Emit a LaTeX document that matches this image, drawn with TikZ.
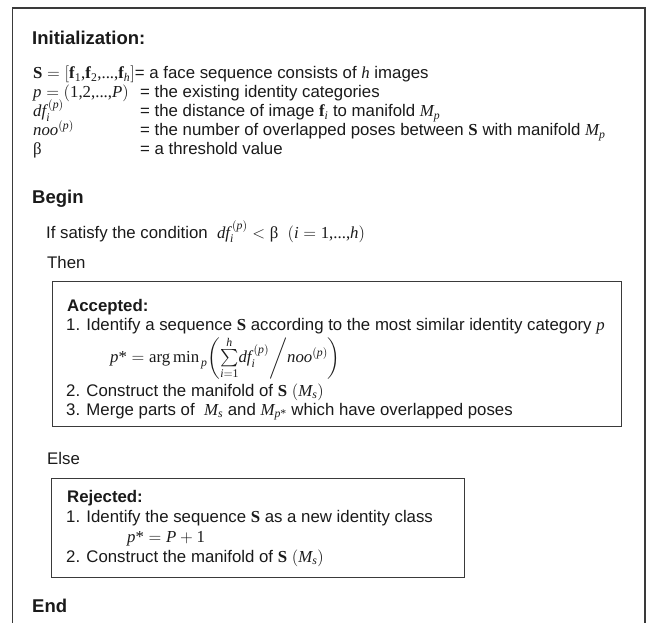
\documentclass[tikz,border=0pt]{standalone}
\usepackage{fix-cm}
\usepackage{amsmath}
\usepackage{fontspec}
\setmainfont{Liberation Sans}
\newfontfamily\serif{Liberation Serif}
\newcommand\mv[1]{\text{\serif\itshape #1}}
\newcommand\mb[1]{\text{\serif\bfseries #1}}
\newcommand\mr[1]{\text{\serif #1}}
\definecolor{ink}{HTML}{1A1A1A}
\definecolor{rulec}{HTML}{3A3A3A}
\tikzset{
  txt/.style={anchor=base west, inner sep=0pt, text=ink, font=\fontsize{16.8}{19}\selectfont},
  head/.style={anchor=base west, inner sep=0pt, text=ink, font=\fontsize{18.5}{22}\selectfont\bfseries},
  subhead/.style={anchor=base west, inner sep=0pt, text=ink, font=\fontsize{16.8}{19}\selectfont\bfseries},
  frameline/.style={draw=rulec, line width=1.6pt},
  boxed/.style={draw=rulec, line width=1.3pt, anchor=north west, inner sep=0pt, fill=none},
}
\begin{document}
\begin{tikzpicture}[x=1pt,y=-1pt]
\useasboundingbox (0,0) rectangle (648,623);
\fill[white] (0,0) rectangle (648,623);
% outer frame (bottom edge lies below the picture)
\coordinate (fbl) at (12.5,630);
\coordinate (ftl) at (12.5,8);
\coordinate (ftr) at (645,8);
\coordinate (fbr) at (645,630);
\draw[frameline] (fbl) -- (ftl) -- (ftr) -- (fbr);

\node[head] (init) at (32,45) {Initialization:};

\node[txt] (d1) at (33,79) {$\mb{S}=[\mb{f}_{\mr{1}}\mr{,}\mb{f}_{\mr{2}}\mr{,...,}\mb{f}_{\mv{h}}]$= a face sequence consists of $\mv{h}$ images};
\node[txt] (d2l) at (33,98) {$\mv{p}=(\mr{1,2,...,}\mv{P})$};
\node[txt] (d2r) at (140,98) {= the existing identity categories};
\node[txt] (d3l) at (33,117) {$\mv{df}_{\mv{i}}^{\,(\mv{p})}$};
\node[txt] (d3r) at (140,117) {= the distance of image $\mb{f}_{\mv{i}}$ to manifold $\mv{M}_{\mv{p}}$};
\node[txt] (d4l) at (33,136) {$\mv{noo}^{(\mv{p})}$};
\node[txt] (d4r) at (140,136) {= the number of overlapped poses between $\mb{S}$ with manifold $\mv{M}_{\mv{p}}$};
\node[txt] (d5l) at (33,155) {{\serif β}};
\node[txt] (d5r) at (140,155) {= a threshold value};

\node[head] (begin) at (32,203) {Begin};
\node[txt] (ifc) at (46,238) {If satisfy the condition \ $\mv{df}_{\mv{i}}^{\,(\mv{p})}<\mr{β}\ \ (\mv{i}=\mr{1,...,}\mv{h})$};
\node[txt] (then) at (47,268) {Then};

\node[boxed, minimum width=569pt, minimum height=145pt] (acc) at (52,281) {};
\node[subhead] (acct) at (67,311) {Accepted:};
\node[txt] (a1) at (66,330) {1. Identify a sequence $\mb{S}$ according to the most similar identity category $\mv{p}$};
\node[txt, anchor=west] (af) at (110,358) {$\mv{p}\mr{*}=\mr{arg\,min}_{\,\mv{p}}\!\left(\textstyle\sum\limits_{\mv{i}=\mr{1}}^{\mv{h}}\!\mv{df}_{\mv{i}}^{\,(\mv{p})}\middle/\mv{noo}^{(\mv{p})}\right)$};
\node[txt] (a2) at (66,396) {2. Construct the manifold of $\mb{S}\ (\mv{M}_{\mv{s}})$};
\node[txt] (a3) at (66,415) {3. Merge parts of \ $\mv{M}_{\mv{s}}$ and $\mv{M}_{\mv{p}\mr{*}}$ which have overlapped poses};

\node[txt] (else) at (47,464) {Else};

\node[boxed, minimum width=413pt, minimum height=99pt] (rej) at (51,478) {};
\node[subhead] (rejt) at (67,502) {Rejected:};
\node[txt] (r1) at (66,522) {1. Identify the sequence $\mb{S}$ as a new identity class};
\node[txt] (rf) at (127,542) {$\mv{p}\mr{*}=\mv{P}+\mr{1}$};
\node[txt] (r2) at (66,562) {2. Construct the manifold of $\mb{S}\ (\mv{M}_{\mv{s}})$};

\node[head] (endn) at (32,612) {End};
\end{tikzpicture}
\end{document}
